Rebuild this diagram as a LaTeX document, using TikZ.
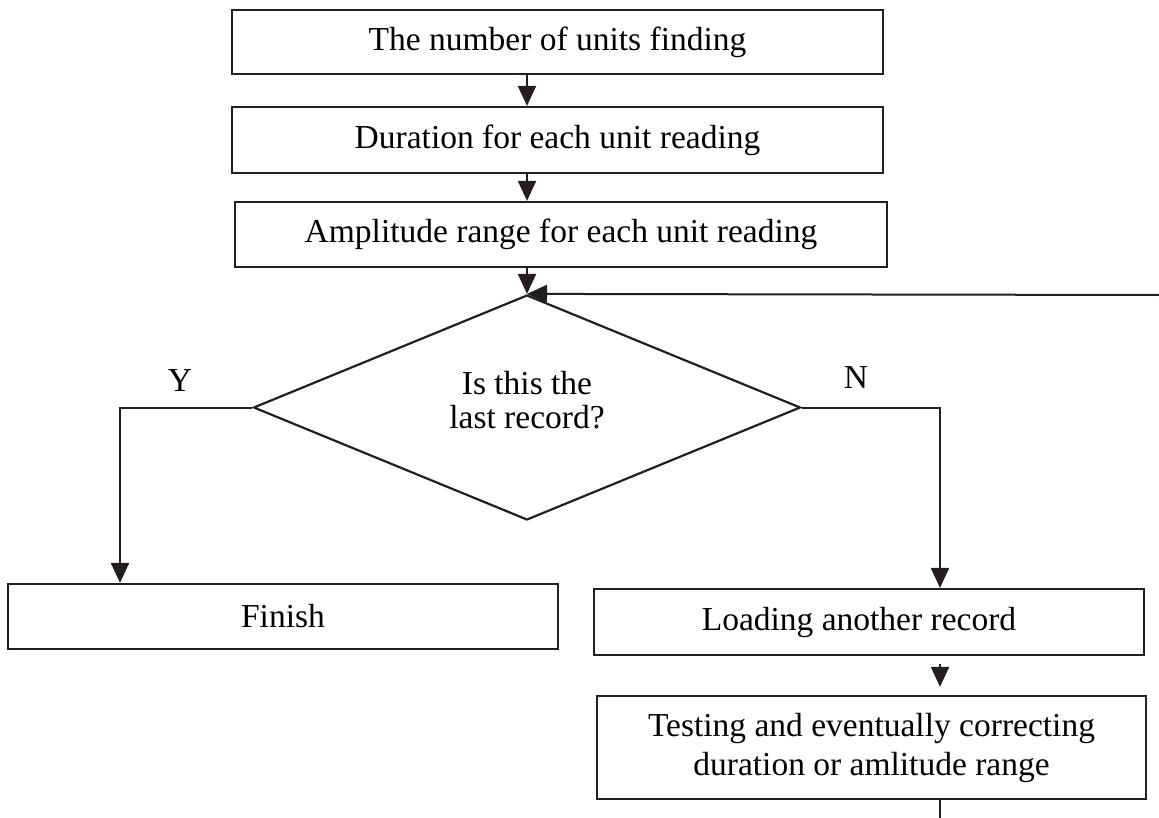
\documentclass[tikz,border=0pt]{standalone}
\usepackage{fontspec}
\setmainfont{Liberation Serif}
\usetikzlibrary{shapes.geometric,arrows.meta}
\definecolor{ink}{RGB}{35,31,32}
\begin{document}
\begin{tikzpicture}[x=1pt,y=-1pt,
  box/.style={draw=ink,line width=2.2pt,inner sep=0pt,font=\fontsize{33.5}{39}\selectfont,align=center},
  conn/.style={draw=ink,line width=2pt},
  arr/.style={conn,-{Triangle[length=20pt,width=18pt]}},
  lbl/.style={font=\fontsize{33.5}{36}\selectfont,inner sep=0pt}]
\useasboundingbox (0,0) rectangle (1159,818);
\node[box,minimum width=651pt,minimum height=64pt] (b1) at (557.5,42) {\raisebox{3pt}{The number of units finding}};
\node[box,minimum width=651pt,minimum height=66pt] (b2) at (557.5,140) {Duration for each unit reading};
\node[box,minimum width=652pt,minimum height=65pt] (b3) at (561,234.5) {Amplitude range for each unit reading};
\node[box,diamond,minimum width=547pt,minimum height=225pt] (dia) at (527,407.5) {};
\node[lbl,align=center,font=\fontsize{33.5}{34}\selectfont] (diaT) at (527,400) {Is this the\\last record?};
\node[box,minimum width=550pt,minimum height=65pt] (fin) at (283,616.5) {Finish};
\node[box,minimum width=550pt,minimum height=66pt] (load) at (869,622) {\hspace*{-20pt}Loading another record};
\node[box,minimum width=549pt,minimum height=103pt] (test) at (871.5,747.5) {Testing and eventually correcting\\duration or amlitude range};
\node[lbl] (y) at (180,381) {Y};
\node[lbl] (n) at (856,378) {N};
\coordinate (lx) at (120,0);
\coordinate (rx) at (940,0);
\coordinate (loopR) at (1159,295);
\coordinate (botEnd) at (940,818);
\draw[arr] (dia.north |- b1.south) -- (dia.north |- b2.north);
\draw[arr] (dia.north |- b2.south) -- (dia.north |- b3.north);
\draw[arr] (dia.north |- b3.south) -- (dia.north);
\draw[arr] (loopR) -- (dia.north);
\draw[arr] (dia.west) -| (lx |- fin.north);
\draw[arr] (dia.east) -| (rx |- load.north);
\draw[arr,shorten <=8pt,shorten >=8pt] (rx |- load.south) -- (rx |- test.north);
\draw[conn] (rx |- test.south) -- (botEnd);
\end{tikzpicture}
\end{document}
